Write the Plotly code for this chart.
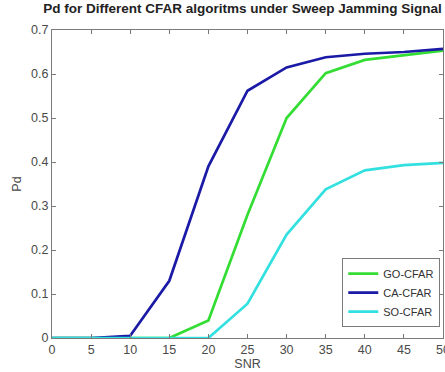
import plotly.graph_objects as go

snr = [0, 5, 10, 15, 20, 25, 30, 35, 40, 45, 50]
go_cfar = [0, 0, 0, 0, 0.04, 0.28, 0.50, 0.602, 0.632, 0.642, 0.653]
ca_cfar = [0, 0, 0.005, 0.13, 0.39, 0.562, 0.615, 0.638, 0.646, 0.650, 0.657]
so_cfar = [0, 0, 0, 0, 0, 0.078, 0.235, 0.338, 0.381, 0.393, 0.398]

x_ticks = [0, 5, 10, 15, 20, 25, 30, 35, 40, 45, 50]
y_ticks = [0, 0.1, 0.2, 0.3, 0.4, 0.5, 0.6, 0.7]
y_labels = ["0", "0.1", "0.2", "0.3", "0.4", "0.5", "0.6", "0.7"]

fig = go.Figure()
fig.add_trace(go.Scatter(x=snr, y=go_cfar, mode="lines", name="GO-CFAR",
                         line=dict(color="#33dd33", width=2.7)))
fig.add_trace(go.Scatter(x=snr, y=ca_cfar, mode="lines", name="CA-CFAR",
                         line=dict(color="#1a1aa6", width=2.7)))
fig.add_trace(go.Scatter(x=snr, y=so_cfar, mode="lines", name="SO-CFAR",
                         line=dict(color="#33e0e0", width=2.7)))

axis_common = dict(showgrid=False, zeroline=False, showline=True, linecolor="#7a7a7a",
                   linewidth=1, mirror="ticks", ticks="inside", ticklen=4,
                   tickcolor="#7a7a7a", tickfont=dict(size=12.5, color="#4a4a4a"),
                   ticklabeloverflow="allow", automargin=False)

fig.update_layout(
    width=445, height=372,
    margin=dict(l=52, r=2, t=30, b=34, autoexpand=False),
    paper_bgcolor="white", plot_bgcolor="white",
    font=dict(family="Liberation Sans, Arial, sans-serif", color="#333333"),
    title=dict(text="<b>Pd for Different CFAR algoritms under Sweep Jamming Signal</b>",
               font=dict(size=13.5, color="#222222"), x=0.545, xanchor="center",
               y=0.99, yanchor="top"),
    xaxis=dict(range=[0, 50], tickvals=x_ticks, title=dict(text="SNR", standoff=1,
               font=dict(size=12.5, color="#4a4a4a")), **axis_common),
    yaxis=dict(range=[0, 0.7], tickvals=y_ticks, ticktext=y_labels,
               title=dict(text="Pd", standoff=6, font=dict(size=12.5, color="#4a4a4a")),
               **axis_common),
    legend=dict(x=0.993, y=0.035, xanchor="right", yanchor="bottom",
                bgcolor="white", bordercolor="#7a7a7a", borderwidth=1,
                font=dict(size=11, color="#333333"), tracegroupgap=0,
                itemwidth=30),
    showlegend=True,
)

fig.write_html("out.html")
